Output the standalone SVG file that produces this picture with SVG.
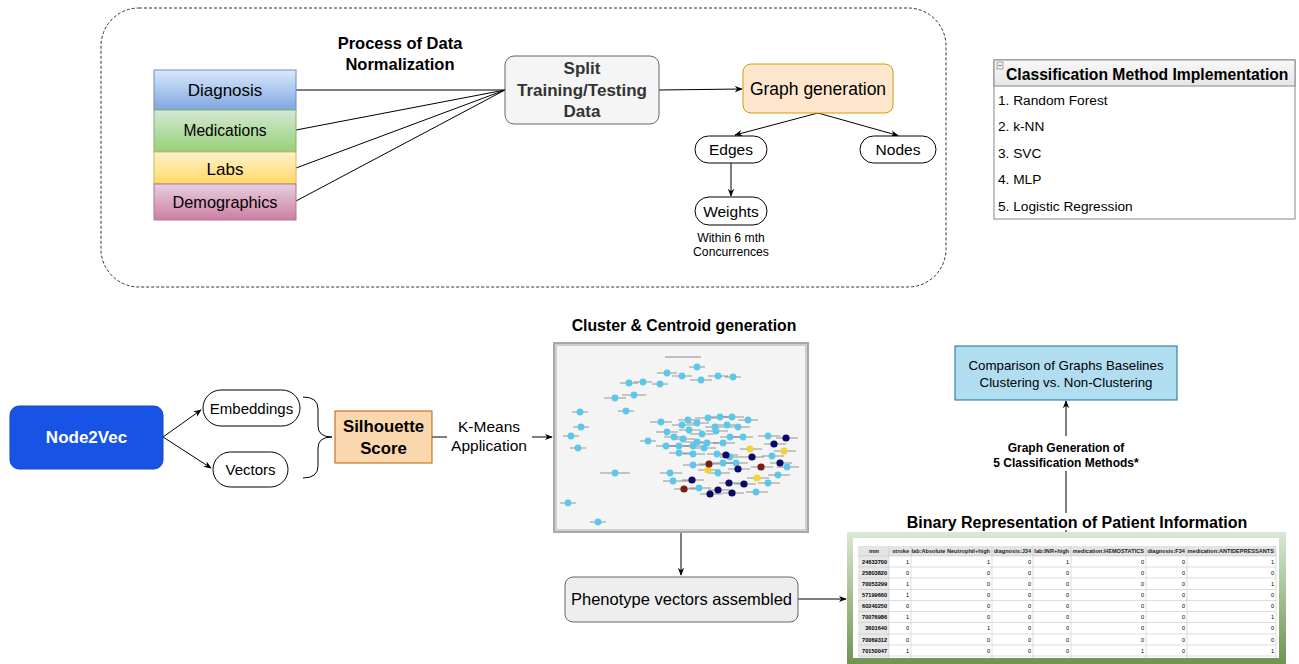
<svg xmlns="http://www.w3.org/2000/svg" width="1299" height="664" viewBox="0 0 1299 664">
<defs>
<style>
text{font-family:"Liberation Sans",Arial,Helvetica,sans-serif;fill:#000}
.c{text-anchor:middle}
.b{font-weight:bold}
.ln{fill:none;stroke:#000;stroke-width:1}
.pill{fill:#fff;stroke:#000;stroke-width:1}
.tb{font-size:5.6px}
.th{font-size:5.6px;font-weight:bold;text-anchor:end;fill:#222}
.tv{font-size:5.6px;text-anchor:end;fill:#333}
.cb{fill:#5bc8ea}
.cn{fill:#0b0b66}
.cy{fill:#f0d43a}
.cr{fill:#7a1c12}
</style>
<marker id="ar" viewBox="0 0 10 10" refX="9" refY="5" markerWidth="8" markerHeight="8" markerUnits="userSpaceOnUse" orient="auto">
<path d="M0,1 L10,5 L0,9 L3,5 z" fill="#000"/>
</marker>
<linearGradient id="gBlue" x1="0" y1="0" x2="0" y2="1"><stop offset="0" stop-color="#dae8fc"/><stop offset="1" stop-color="#7ea6e0"/></linearGradient>
<linearGradient id="gGreen" x1="0" y1="0" x2="0" y2="1"><stop offset="0" stop-color="#d5e8d4"/><stop offset="1" stop-color="#97d077"/></linearGradient>
<linearGradient id="gYellow" x1="0" y1="0" x2="0" y2="1"><stop offset="0" stop-color="#fff2cc"/><stop offset="1" stop-color="#ffd966"/></linearGradient>
<linearGradient id="gPink" x1="0" y1="0" x2="0" y2="1"><stop offset="0" stop-color="#e6d0de"/><stop offset="1" stop-color="#cd7ea2"/></linearGradient>
<linearGradient id="gFrame" x1="0" y1="0" x2="0" y2="1"><stop offset="0" stop-color="#d8e9d2"/><stop offset="1" stop-color="#6e9452"/></linearGradient>
<linearGradient id="gHead" x1="0" y1="0" x2="0" y2="1"><stop offset="0" stop-color="#f8f8f8"/><stop offset="1" stop-color="#e6e6e6"/></linearGradient>
</defs>
<rect width="1299" height="664" fill="#fff"/>

<!-- container -->
<rect x="101" y="8" width="845" height="279" rx="38" ry="38" fill="none" stroke="#333" stroke-width="1" stroke-dasharray="3,2"/>
<text class="c b" x="400" y="49" font-size="16.5">Process of Data</text>
<text class="c b" x="400" y="70" font-size="16.5">Normalization</text>

<g id="connectors">
<line class="ln" x1="296" y1="90" x2="505" y2="90"/>
<line class="ln" x1="296" y1="130" x2="505" y2="90"/>
<line class="ln" x1="296" y1="168" x2="505" y2="90"/>
<line class="ln" x1="296" y1="201" x2="505" y2="90"/>
<line class="ln" x1="659" y1="90" x2="742" y2="89" marker-end="url(#ar)"/>
<line class="ln" x1="818" y1="113" x2="735" y2="135" marker-end="url(#ar)"/>
<line class="ln" x1="818" y1="113" x2="898" y2="135.5" marker-end="url(#ar)"/>
<line class="ln" x1="731" y1="163" x2="731" y2="196" marker-end="url(#ar)"/>
<line class="ln" x1="163" y1="437" x2="201" y2="410" marker-end="url(#ar)"/>
<line class="ln" x1="163" y1="437" x2="211" y2="468" marker-end="url(#ar)"/>
<path class="ln" d="M303,397 Q318,397 318,409 L318,426 Q318,437 332,437 Q318,437 318,448 L318,466 Q318,478 303,478"/>
<line class="ln" x1="432" y1="437" x2="447" y2="437"/>
<line class="ln" x1="532" y1="437" x2="552" y2="437" marker-end="url(#ar)"/>
<line class="ln" x1="681" y1="533" x2="681" y2="575" marker-end="url(#ar)"/>
<line class="ln" x1="798" y1="599" x2="846" y2="599" marker-end="url(#ar)"/>
<line class="ln" x1="1066" y1="436" x2="1066" y2="401" marker-end="url(#ar)"/>
<line class="ln" x1="1066" y1="513" x2="1066" y2="471"/>
<line class="ln" x1="1066" y1="530" x2="1066" y2="533"/>
</g>

<g id="diagnosis">
<rect x="154" y="70" width="142" height="40" fill="url(#gBlue)" stroke="#6c8ebf"/>
<text class="c" x="225" y="96" font-size="17">Diagnosis</text>
</g>
<g id="medications">
<rect x="154" y="110" width="142" height="42" fill="url(#gGreen)" stroke="#82b366"/>
<text class="c" x="225" y="136" font-size="15.6">Medications</text>
</g>
<g id="labs">
<rect x="154" y="152" width="142" height="32" fill="url(#gYellow)" stroke="#d6b656"/>
<text class="c" x="225" y="174.5" font-size="17">Labs</text>
</g>
<g id="demographics">
<rect x="154" y="184" width="142" height="36" fill="url(#gPink)" stroke="#b5739d"/>
<text class="c" x="225" y="207.5" font-size="16.3">Demographics</text>
</g>

<g id="split">
<rect x="505" y="56" width="154" height="68" rx="9" fill="#f5f5f5" stroke="#666"/>
<text class="c b" x="582" y="74" font-size="17" style="fill:#333">Split</text>
<text class="c b" x="582" y="96" font-size="17" style="fill:#333">Training/Testing</text>
<text class="c b" x="582" y="117" font-size="17" style="fill:#333">Data</text>
</g>

<g id="graphgen">
<rect x="743" y="64" width="150" height="49" rx="8" fill="#ffe6cc" stroke="#d79b00"/>
<text class="c" x="818" y="95" font-size="17.5">Graph generation</text>
</g>

<g id="edges">
<rect class="pill" x="695" y="136" width="72" height="27" rx="13.5"/>
<text class="c" x="731" y="155" font-size="15.5">Edges</text>
</g>
<g id="nodes">
<rect class="pill" x="860" y="136" width="76" height="27" rx="13.5"/>
<text class="c" x="898" y="155" font-size="15.5">Nodes</text>
</g>
<g id="weights">
<rect class="pill" x="695" y="197" width="72" height="28" rx="14"/>
<text class="c" x="731" y="216.5" font-size="15.5">Weights</text>
<text class="c" x="731" y="241.5" font-size="12.2">Within 6 mth</text>
<text class="c" x="731" y="256" font-size="12.2">Concurrences</text>
</g>

<g id="classification">
<rect x="994" y="60" width="301" height="159" fill="#fff" stroke="#888"/>
<rect x="994" y="60" width="301" height="26" fill="url(#gHead)" stroke="#888"/>
<rect x="997" y="62" width="6" height="7" fill="#eee" stroke="#888" stroke-width="0.7"/>
<line x1="998.5" y1="65.5" x2="1001.5" y2="65.5" stroke="#555" stroke-width="0.8"/>
<text class="b" x="1006" y="80" font-size="15.7">Classification Method Implementation</text>
<text x="998" y="105" font-size="13.7">1. Random Forest</text>
<text x="998" y="131" font-size="13.7">2. k-NN</text>
<text x="998" y="157.5" font-size="13.7">3. SVC</text>
<text x="998" y="184" font-size="13.7">4. MLP</text>
<text x="998" y="210.5" font-size="13.7">5. Logistic Regression</text>
</g>

<g id="node2vec">
<rect x="10" y="406" width="153" height="63" rx="9" fill="#1753e5" stroke="#1a47c0"/>
<text class="c b" x="86.5" y="443" font-size="17" style="fill:#fff">Node2Vec</text>
</g>
<g id="embeddings">
<rect class="pill" x="203" y="390" width="97" height="36" rx="18"/>
<text class="c" x="251.5" y="413.5" font-size="15">Embeddings</text>
</g>
<g id="vectors">
<rect class="pill" x="213" y="452" width="75" height="35" rx="17.5"/>
<text class="c" x="250.5" y="475" font-size="15">Vectors</text>
</g>
<g id="silhouette">
<rect x="335" y="411" width="97" height="52" fill="#fad7ac" stroke="#b46504"/>
<text class="c b" x="383.5" y="431.5" font-size="16.8">Silhouette</text>
<text class="c b" x="383.5" y="454" font-size="16.8">Score</text>
</g>
<g id="kmeans-label">
<text class="c" x="489" y="432" font-size="15.5">K-Means</text>
<text class="c" x="489" y="451" font-size="15.5">Application</text>
</g>

<g id="cluster">
<text class="c b" x="684" y="331" font-size="15.8">Cluster &amp; Centroid generation</text>
<rect x="553" y="342" width="256" height="191" fill="#a8a8a8"/>
<rect x="555" y="344" width="252" height="187" fill="#cfcfcf"/>
<rect x="557" y="346" width="248" height="183" fill="#f4f4f4"/>
<line x1="665" y1="357" x2="701" y2="357" stroke="#888" stroke-width="1.2"/>
<path fill="none" stroke="#333" stroke-width="0.9" opacity="0.55" d="M689,367h16 M657,373h20 M672,376h20 M708,376h20 M725,377h16 M690,380h22 M634,382h18 M620,383h18 M652,384h16 M622,395h24 M604,398h22 M618,411h16 M572,412h16 M573,427h16 M563,436h16 M570,448h16 M640,441h16 M600,473h30 M560,503h16 M590,522h16 M650,422h22 M678,420h22 M695,418h26 M710,417h22 M722,417h22 M738,420h20 M672,425h22 M687,423h22 M705,427h22 M717,425h22 M728,427h22 M656,432h22 M679,430h22 M690,434h24 M706,431h22 M720,437h22 M733,437h20 M664,437h22 M673,439h22 M685,442h24 M697,443h22 M713,443h22 M656,446h22 M669,446h22 M683,446h22 M694,448h22 M669,453h22 M683,454h22 M707,454h22 M720,457h22 M726,463h22 M683,465h22 M713,463h20 M708,473h22 M660,473h22 M663,481h30 M689,488h22 M746,492h22 M758,436h22 M762,456h22 M777,467h22 M768,475h22 M758,483h22 M776,438h22 M764,444h22 M742,457h22 M716,455h22 M770,463h22 M728,469h22 M682,480h22 M719,483h22 M734,484h22 M708,490h22 M700,494h22 M722,493h22 M740,449h22 M774,451h22 M698,470h22 M747,478h22 M699,464h22 M751,467h22 M674,489h22"/>
<g class="cb">
<circle cx="697" cy="367" r="3.4"/><circle cx="667" cy="373" r="3.4"/><circle cx="682" cy="376" r="3.4"/><circle cx="718" cy="376" r="3.4"/><circle cx="733" cy="377" r="3.4"/><circle cx="701" cy="380" r="3.4"/><circle cx="643" cy="382" r="3.4"/><circle cx="629" cy="383" r="3.4"/><circle cx="660" cy="384" r="3.4"/><circle cx="634" cy="395" r="3.4"/><circle cx="615" cy="398" r="3.4"/><circle cx="626" cy="411" r="3.4"/><circle cx="580" cy="412" r="3.4"/><circle cx="581" cy="427" r="3.4"/><circle cx="571" cy="436" r="3.4"/><circle cx="578" cy="448" r="3.4"/><circle cx="648" cy="441" r="3.4"/><circle cx="615" cy="473" r="3.4"/><circle cx="568" cy="503" r="3.4"/><circle cx="598" cy="522" r="3.4"/>
<circle cx="661" cy="422" r="3.4"/><circle cx="688" cy="420" r="3.4"/><circle cx="708" cy="418" r="3.4"/><circle cx="720" cy="417" r="3.4"/><circle cx="732" cy="417" r="3.4"/><circle cx="748" cy="420" r="3.4"/><circle cx="682" cy="425" r="3.4"/><circle cx="697" cy="423" r="3.4"/><circle cx="715" cy="427" r="3.4"/><circle cx="727" cy="425" r="3.4"/><circle cx="738" cy="427" r="3.4"/><circle cx="667" cy="432" r="3.4"/><circle cx="689" cy="430" r="3.4"/><circle cx="702" cy="434" r="3.4"/><circle cx="716" cy="431" r="3.4"/><circle cx="730" cy="437" r="3.4"/><circle cx="743" cy="437" r="3.4"/><circle cx="674" cy="437" r="3.4"/><circle cx="683" cy="439" r="3.4"/><circle cx="697" cy="442" r="3.4"/><circle cx="707" cy="443" r="3.4"/><circle cx="723" cy="443" r="3.4"/><circle cx="666" cy="446" r="3.4"/><circle cx="679" cy="446" r="3.4"/><circle cx="693" cy="446" r="3.4"/><circle cx="704" cy="448" r="3.4"/><circle cx="679" cy="453" r="3.4"/><circle cx="693" cy="454" r="3.4"/><circle cx="717" cy="454" r="3.4"/><circle cx="730" cy="457" r="3.4"/><circle cx="736" cy="463" r="3.4"/><circle cx="693" cy="465" r="3.4"/><circle cx="723" cy="463" r="3.4"/><circle cx="718" cy="473" r="3.4"/><circle cx="670" cy="473" r="3.4"/><circle cx="673" cy="481" r="3.4"/><circle cx="699" cy="488" r="3.4"/><circle cx="756" cy="492" r="3.4"/><circle cx="768" cy="436" r="3.4"/><circle cx="772" cy="456" r="3.4"/><circle cx="787" cy="467" r="3.4"/><circle cx="778" cy="475" r="3.4"/><circle cx="768" cy="483" r="3.4"/>
</g>
<g class="cn">
<circle cx="786" cy="438" r="3.6"/><circle cx="774" cy="444" r="3.6"/><circle cx="752" cy="457" r="3.6"/><circle cx="726" cy="455" r="3.6"/><circle cx="780" cy="463" r="3.6"/><circle cx="738" cy="469" r="3.6"/><circle cx="692" cy="480" r="3.6"/><circle cx="729" cy="483" r="3.6"/><circle cx="744" cy="484" r="3.6"/><circle cx="718" cy="490" r="3.6"/><circle cx="710" cy="494" r="3.6"/><circle cx="732" cy="493" r="3.6"/>
</g>
<g class="cy">
<circle cx="750" cy="449" r="3.6"/><circle cx="784" cy="451" r="3.6"/><circle cx="708" cy="470" r="3.6"/><circle cx="757" cy="478" r="3.6"/>
</g>
<g class="cr">
<circle cx="709" cy="464" r="3.6"/><circle cx="761" cy="467" r="3.6"/><circle cx="684" cy="489" r="3.6"/>
</g>
</g>

<g id="phenotype">
<rect x="565" y="577" width="233" height="45" rx="8" fill="#eeeeee" stroke="#666"/>
<text class="c" x="681.5" y="605" font-size="16.5">Phenotype vectors assembled</text>
</g>

<g id="comparison">
<rect x="955" y="346" width="222" height="54" fill="#b1ddf0" stroke="#10739e"/>
<text class="c" x="1066" y="370" font-size="13.3">Comparison of Graphs Baselines</text>
<text class="c" x="1066" y="387" font-size="13.3">Clustering vs. Non-Clustering</text>
</g>
<g id="graph-generation-label">
<text class="c b" x="1066" y="451.5" font-size="12">Graph Generation of</text>
<text class="c b" x="1066" y="467" font-size="12">5 Classification Methods*</text>
</g>

<g id="binary">
<text class="c b" x="1077" y="528" font-size="16">Binary Representation of Patient Information</text>
<rect x="847" y="532" width="439" height="132" fill="url(#gFrame)"/>
<rect x="853" y="538" width="426" height="120" fill="#fff"/>
<!-- header row -->
<rect x="858" y="546" width="418" height="10" fill="#e4e4e4"/>
<rect x="858" y="556" width="31" height="102" fill="#e8e8e8"/>
<g stroke="#c8c8c8" stroke-width="0.6">
<line x1="858" y1="556" x2="1276" y2="556"/><line x1="858" y1="567" x2="1276" y2="567"/><line x1="858" y1="578" x2="1276" y2="578"/><line x1="858" y1="589.5" x2="1276" y2="589.5"/><line x1="858" y1="600.5" x2="1276" y2="600.5"/><line x1="858" y1="611.5" x2="1276" y2="611.5"/><line x1="858" y1="622.5" x2="1276" y2="622.5"/><line x1="858" y1="634" x2="1276" y2="634"/><line x1="858" y1="645" x2="1276" y2="645"/><line x1="858" y1="656" x2="1276" y2="656"/>
<line x1="889" y1="546" x2="889" y2="658"/><line x1="911" y1="546" x2="911" y2="658"/><line x1="992" y1="546" x2="992" y2="658"/><line x1="1033" y1="546" x2="1033" y2="658"/><line x1="1071" y1="546" x2="1071" y2="658"/><line x1="1146" y1="546" x2="1146" y2="658"/><line x1="1187" y1="546" x2="1187" y2="658"/><line x1="1276" y1="546" x2="1276" y2="658"/>
</g>
<text class="th" x="869" y="553" style="text-anchor:start">mm</text>
<text class="th" x="909" y="553">stroke</text>
<text class="th" x="990" y="553">lab:Absolute Neutrophil+high</text>
<text class="th" x="1031" y="553">diagnosis:J34</text>
<text class="th" x="1069" y="553">lab:INR+high</text>
<text class="th" x="1144" y="553">medication:HEMOSTATICS</text>
<text class="th" x="1185" y="553">diagnosis:F34</text>
<text class="th" x="1274" y="553">medication:ANTIDEPRESSANTS</text>
<g class="th">
<text x="887" y="563.5">24633700</text><text x="887" y="574.5">25803820</text><text x="887" y="585.5">70053299</text><text x="887" y="597">57199660</text><text x="887" y="608">60240250</text><text x="887" y="619">70076986</text><text x="887" y="630">3601640</text><text x="887" y="641.5">70069312</text><text x="887" y="652.5">70150047</text>
</g>
<g class="tv">
<text x="909" y="563.5">1</text><text x="990" y="563.5">1</text><text x="1031" y="563.5">0</text><text x="1069" y="563.5">1</text><text x="1144" y="563.5">0</text><text x="1185" y="563.5">0</text><text x="1274" y="563.5">1</text>
<text x="909" y="574.5">0</text><text x="990" y="574.5">0</text><text x="1031" y="574.5">0</text><text x="1069" y="574.5">0</text><text x="1144" y="574.5">0</text><text x="1185" y="574.5">0</text><text x="1274" y="574.5">0</text>
<text x="909" y="585.5">1</text><text x="990" y="585.5">0</text><text x="1031" y="585.5">0</text><text x="1069" y="585.5">0</text><text x="1144" y="585.5">0</text><text x="1185" y="585.5">0</text><text x="1274" y="585.5">1</text>
<text x="909" y="597">1</text><text x="990" y="597">0</text><text x="1031" y="597">0</text><text x="1069" y="597">0</text><text x="1144" y="597">0</text><text x="1185" y="597">0</text><text x="1274" y="597">0</text>
<text x="909" y="608">0</text><text x="990" y="608">0</text><text x="1031" y="608">0</text><text x="1069" y="608">0</text><text x="1144" y="608">0</text><text x="1185" y="608">0</text><text x="1274" y="608">0</text>
<text x="909" y="619">1</text><text x="990" y="619">0</text><text x="1031" y="619">0</text><text x="1069" y="619">0</text><text x="1144" y="619">0</text><text x="1185" y="619">0</text><text x="1274" y="619">1</text>
<text x="909" y="630">0</text><text x="990" y="630">1</text><text x="1031" y="630">0</text><text x="1069" y="630">0</text><text x="1144" y="630">0</text><text x="1185" y="630">0</text><text x="1274" y="630">0</text>
<text x="909" y="641.5">0</text><text x="990" y="641.5">0</text><text x="1031" y="641.5">0</text><text x="1069" y="641.5">0</text><text x="1144" y="641.5">0</text><text x="1185" y="641.5">0</text><text x="1274" y="641.5">0</text>
<text x="909" y="652.5">1</text><text x="990" y="652.5">0</text><text x="1031" y="652.5">0</text><text x="1069" y="652.5">0</text><text x="1144" y="652.5">1</text><text x="1185" y="652.5">0</text><text x="1274" y="652.5">1</text>
</g>
</g>
</svg>
